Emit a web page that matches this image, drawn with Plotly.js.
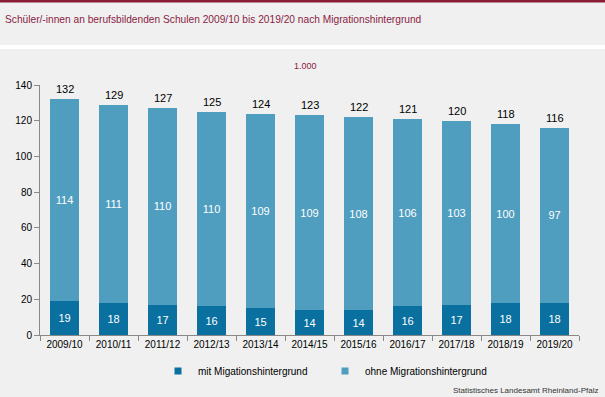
<!DOCTYPE html>
<html><head><meta charset="utf-8">
<script src="https://cdn.plot.ly/plotly-3.0.1.min.js"></script>
<style>html,body{margin:0;padding:0;background:#eff0ef}</style>
</head><body>
<div id="chart" style="width:605px;height:397px"></div>
<script>
var categories = ["2009/10","2010/11","2011/12","2012/13","2013/14","2014/15","2015/16","2016/17","2017/18","2018/19","2019/20"];
var mitValues = [19,18,17,16,15,14,14,16,17,18,18];
var ohneValues = [114,111,110,110,109,109,108,106,103,100,97];
var totalValues = [132,129,127,125,124,123,122,121,120,118,116];
var yTicks = [0,20,40,60,80,100,120,140];
var legendNames = ["mit Migationshintergrund","ohne Migrationshintergrund"];

var F = "Liberation Sans, Arial, sans-serif";
var cMit = "#0a70a0", cOhne = "#4f9dbf";
var traces = [
  {type:"bar", name:legendNames[0], x:categories, y:mitValues, showlegend:false,
   marker:{color:cMit}, text:mitValues.map(String), textposition:"inside", textangle:0, constraintext:"none",
   insidetextanchor:"middle", textfont:{color:"#ffffff", size:11, family:F}, hoverinfo:"none"},
  {type:"bar", name:legendNames[1], x:categories, y:ohneValues.map(function(v,i){return totalValues[i]-mitValues[i];}), showlegend:false,
   marker:{color:cOhne}, text:ohneValues.map(String), textposition:"inside", textangle:0, constraintext:"none",
   insidetextanchor:"middle", textfont:{color:"#ffffff", size:11, family:F}, hoverinfo:"none"},
  {type:"scatter", mode:"markers", name:legendNames[0], x:[null], y:[null], legend:"legend",
   marker:{symbol:"square", size:7, color:cMit}},
  {type:"scatter", mode:"markers", name:legendNames[1], x:[null], y:[null], legend:"legend2",
   marker:{symbol:"square", size:7, color:cOhne}}
];
var totalAnnotations = categories.map(function(c,i){
  return {x:c, y:totalValues[i], xref:"x", yref:"y", text:String(totalValues[i]), showarrow:false,
    yanchor:"bottom", yshift:2, font:{family:F, size:11, color:"#000"}};
});
var legendBase = {orientation:"h", xref:"container", xanchor:"left", y:1-371/397, yref:"container", yanchor:"middle",
    font:{size:10, color:"#000", family:F}, bgcolor:"rgba(0,0,0,0)", itemwidth:30};
var layout = {
  width:605, height:397,
  paper_bgcolor:"#eff0ef", plot_bgcolor:"#eff0ef",
  margin:{l:40, r:26, t:85, b:62},
  barmode:"stack", bargap:0.41,
  font:{family:F, size:10, color:"#000"},
  title:{text:"Schüler/-innen an berufsbildenden Schulen 2009/10 bis 2019/20 nach Migrationshintergrund",
    x:5/605, xanchor:"left", xref:"container", y:1-19/397, yanchor:"middle", yref:"container",
    font:{family:F, size:10.2, color:"#8c1c45"}},
  xaxis:{type:"category", range:[-0.5,10.5], tickson:"boundaries", ticks:"outside", ticklen:5, tickcolor:"#888", tickangle:0,
    showline:true, linecolor:"#888", linewidth:1, showgrid:false, tickfont:{size:10, color:"#000"}},
  yaxis:{range:[0,140], tickvals:yTicks, ticks:"outside", ticklen:5, tickcolor:"#888",
    showline:true, linecolor:"#888", linewidth:1, showgrid:false, zeroline:false, tickfont:{size:10, color:"#000"}},
  showlegend:true,
  legend:Object.assign({}, legendBase, {x:158/605}),
  legend2:Object.assign({}, legendBase, {x:325/605}),
  annotations:totalAnnotations.concat([
    {text:"1.000", xref:"paper", yref:"paper", x:(305-40)/539, y:(335-66)/250, xanchor:"center", yanchor:"middle",
     showarrow:false, font:{size:9, color:"#8c1c45"}},
    {text:"Statistisches Landesamt Rheinland-Pfalz", xref:"paper", yref:"paper", x:(600-40)/539, y:(335-390)/250,
     xanchor:"right", yanchor:"middle", showarrow:false, font:{size:8, color:"#333"}}
  ]),
  shapes:[
    {type:"line", xref:"paper", yref:"paper", x0:-0.08, x1:1.06, y0:(335-47)/250, y1:(335-47)/250, line:{color:"#ffffff", width:4}},
    {type:"line", xref:"paper", yref:"paper", x0:-0.08, x1:1.06, y0:(335-1)/250, y1:(335-1)/250, line:{color:"#8a1c33", width:3}}
  ]
};
Plotly.newPlot("chart", traces, layout, {displayModeBar:false, staticPlot:true});
</script>
</body></html>
